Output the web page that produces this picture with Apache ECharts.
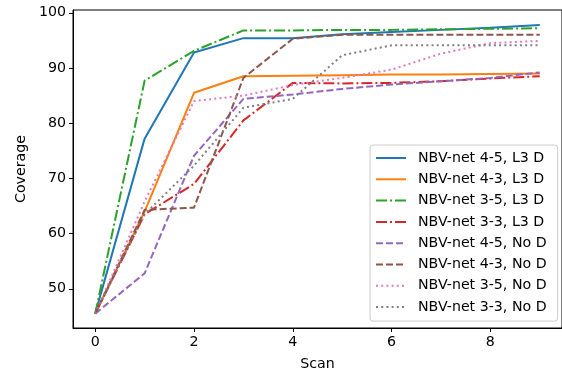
<!DOCTYPE html>
<html>
<head>
<meta charset="utf-8">
<script src="https://cdn.jsdelivr.net/npm/echarts@6/dist/echarts.min.js"></script>
<style>
    html, body { margin: 0; padding: 0; background: #fff; }
    #main { width: 562px; height: 376px; }
</style>
</head>
<body>
<div id="main"></div>
<script>
// 数据 每条线一个数组
var scans = [0, 1, 2, 3, 4, 5, 6, 7, 8, 9];
var xTicks = [0, 2, 4, 6, 8];
var yTicks = [50, 60, 70, 80, 90, 100];

var names = ['NBV-net 4-5, L3 D', 'NBV-net 4-3, L3 D', 'NBV-net 3-5, L3 D', 'NBV-net 3-3, L3 D',
             'NBV-net 4-5, No D', 'NBV-net 4-3, No D', 'NBV-net 3-5, No D', 'NBV-net 3-3, No D'];

var net45L3 = [45.5, 77.2, 92.8, 95.4, 95.4, 96.1, 96.5, 96.9, 97.3, 97.8];
var net43L3 = [45.5, 64.0, 85.5, 88.5, 88.6, 88.7, 88.8, 88.8, 88.9, 89.0];
var net35L3 = [45.5, 87.7, 93.1, 96.8, 96.8, 96.9, 96.9, 97.0, 97.1, 97.2];
var net33L3 = [45.5, 63.5, 69.0, 80.5, 87.3, 87.2, 87.3, 87.6, 88.1, 88.5];
var net45No = [45.5, 52.8, 74.1, 84.4, 85.2, 86.2, 87.0, 87.6, 88.2, 89.2];
var net43No = [45.5, 64.3, 64.7, 88.2, 95.3, 96.0, 96.0, 96.0, 96.0, 96.0];
var net35No = [45.5, 65.8, 84.0, 85.0, 86.9, 88.2, 89.7, 92.6, 94.5, 94.9];
var net33No = [45.5, 63.5, 72.3, 82.8, 84.4, 92.3, 94.1, 94.1, 94.1, 94.1];

var allData = [net45L3, net43L3, net35L3, net33L3, net45No, net43No, net35No, net33No];
var colors = ['#1f77b4', '#ff7f0e', '#2ca02c', '#d62728', '#9467bd', '#8c564b', '#e377c2', '#7f7f7f'];
// matplotlib 的线型
var solid = 'solid';
var dashdot = [11, 3, 2, 3];
var dashed = [7, 3];
var dotted = [2, 3.2];
var styles = [solid, solid, dashdot, dashdot, dashed, dashed, dotted, dotted];

var font = 'DejaVu Sans';
var fs = 14.2;

var series = [];
for (var i = 0; i < names.length; i++) {
    var pts = [];
    for (var j = 0; j < scans.length; j++) {
        pts.push([scans[j], allData[i][j]]);
    }
    series.push({
        name: names[i],
        type: 'line',
        data: pts,
        symbol: 'none',
        animation: false,
        lineStyle: { color: colors[i], width: 2, type: styles[i] },
        itemStyle: { color: colors[i] }
    });
}

var myChart = echarts.init(document.getElementById('main'));

var option = {
    backgroundColor: '#fff',
    animation: false,
    grid: {
        left: 73, top: 10, width: 492, height: 319,
        show: true, borderColor: '#000', borderWidth: 1
    },
    legend: {
        orient: 'vertical',
        left: 370, top: 145,
        padding: [6, 11, 7, 5],
        itemWidth: 30, itemHeight: 14, itemGap: 7.3,
        // 图例里不要圆点 只留线
        itemStyle: { opacity: 0 },
        backgroundColor: 'rgba(255,255,255,0.85)',
        borderColor: '#ccc', borderWidth: 1, borderRadius: 3,
        textStyle: { fontFamily: font, fontSize: fs, color: '#000', padding: [0, 0, 0, 7] },
        data: names
    },
    xAxis: {
        type: 'value',
        min: -0.45, max: 9.45,
        name: 'Scan',
        nameLocation: 'middle',
        nameGap: 29,
        nameTextStyle: { fontFamily: font, fontSize: fs, color: '#000' },
        axisLine: { onZero: false, lineStyle: { color: '#000', width: 1 } },
        axisTick: { length: 4, lineStyle: { color: '#000' }, customValues: xTicks },
        axisLabel: { fontFamily: font, fontSize: fs, color: '#000', margin: 7, customValues: xTicks },
        splitLine: { show: false }
    },
    yAxis: {
        type: 'value',
        min: 42.9, max: 100.5,
        name: 'Coverage',
        nameLocation: 'middle',
        nameGap: 45,
        nameTextStyle: { fontFamily: font, fontSize: fs, color: '#000' },
        axisLine: { show: true, onZero: false, lineStyle: { color: '#000', width: 1 } },
        axisTick: { show: true, length: 4, lineStyle: { color: '#000' }, customValues: yTicks },
        axisLabel: { fontFamily: font, fontSize: fs, color: '#000', margin: 7, customValues: yTicks },
        splitLine: { show: false }
    },
    series: series
};
myChart.setOption(option);
</script>
</body>
</html>
